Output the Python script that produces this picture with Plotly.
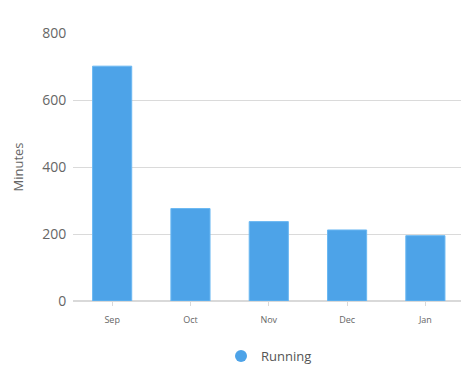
import plotly.graph_objects as go

months = ["Sep", "Oct", "Nov", "Dec", "Jan"]
minutes = [701, 276, 237, 212, 195]
series_name = "Running"
y_ticks = [0, 200, 400, 600, 800]

color = "#4DA3E8"
font = "Open Sans"

fig = go.Figure()
fig.add_trace(go.Bar(
    x=months, y=minutes, name=series_name, showlegend=False,
    marker=dict(color=color, line=dict(color="#6BB8F2", width=1)),
    width=0.5,
))
fig.add_trace(go.Scatter(
    x=[None], y=[None], mode="markers", name=series_name,
    marker=dict(symbol="circle", size=12, color=color),
))

# page has an 8px body margin; compensate so the plot lands where the reference's does
fig.update_layout(
    width=461, height=367,
    margin=dict(l=65, r=0, t=25, b=74),
    paper_bgcolor="white", plot_bgcolor="white",
    font=dict(family=font, color="#666666"),
    showlegend=True,
    legend=dict(orientation="h", x=0.495, xanchor="center", y=-0.205, yanchor="middle",
                font=dict(size=13, color="#555555"), itemsizing="constant"),
    xaxis=dict(
        range=[-0.5, 4.557],
        showgrid=False, showline=True, linecolor="#D9D9D9", linewidth=1,
        ticks="outside", ticklen=4, tickcolor="#D9D9D9",
        ticklabelstandoff=6,
        tickfont=dict(size=9, color="#666666"), automargin=False,
    ),
    yaxis=dict(
        range=[0, 800], tickvals=y_ticks, showgrid=True, gridcolor="#DADADA",
        zeroline=True, zerolinecolor="#D9D9D9", showline=False,
        ticks="outside", ticklen=3, tickcolor="rgba(0,0,0,0)",
        tickfont=dict(size=14, color="#666666"), automargin=False,
        title=dict(text="Minutes", font=dict(size=13, color="#666666"), standoff=15),
    ),
)

fig.write_html("out.html")
